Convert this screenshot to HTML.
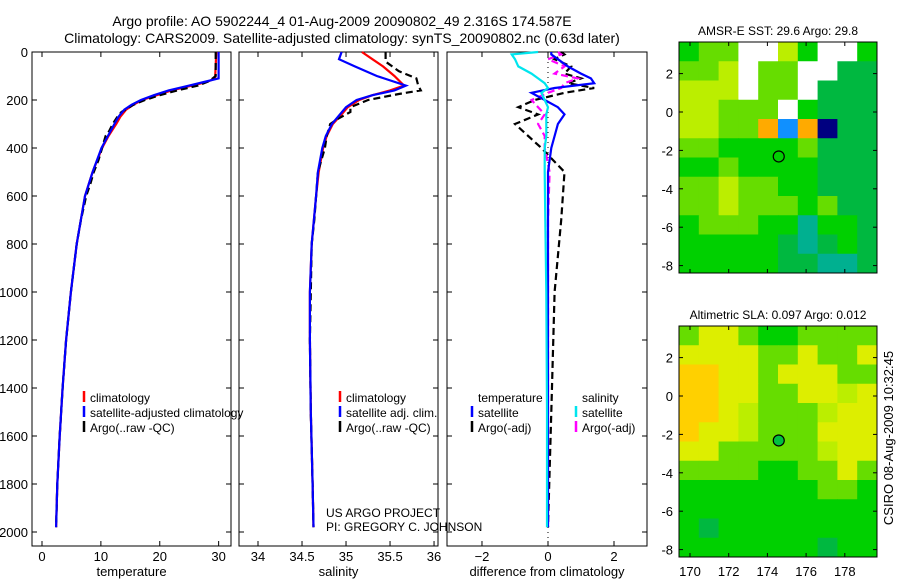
<!DOCTYPE html>
<html><head><meta charset="utf-8"><style>
body{margin:0;background:#fff;}
svg{display:block;font-family:"Liberation Sans",sans-serif;}
</style></head><body>
<svg id="fig" width="900" height="580" viewBox="0 0 900 580">
<text x="342" y="26" font-size="14" text-anchor="middle">Argo profile: AO 5902244_4 01-Aug-2009 20090802_49 2.316S 174.587E</text>
<text x="342" y="43" font-size="14" text-anchor="middle">Climatology: CARS2009. Satellite-adjusted climatology: synTS_20090802.nc (0.63d later)</text>
<g id="maps"></g>
<g id="panels"></g>
<text transform="translate(893,438) rotate(-90)" font-size="13" text-anchor="middle">CSIRO 08-Aug-2009 10:32:45</text>
</svg>
<script>
// ---------- data ----------
const tempDepth = [0,110,125,140,160,180,200,220,240,270,300,350,400,500,600,800,1000,1200,1400,1600,1800,1980];
const tempClim  = [29.6,29.4,28.0,25.5,22.0,19.5,17.0,15.5,14.3,13.3,12.6,11.3,10.2,8.6,7.3,5.9,4.9,4.1,3.5,3.0,2.6,2.4];
const tempSat   = [30.0,30.0,27.5,25.0,21.5,19.0,16.8,15.2,14.0,13.0,12.3,11.2,10.1,8.6,7.3,5.9,4.9,4.1,3.5,3.0,2.6,2.4];
const argoTDepth= [0,100,120,140,160,180,200,220,250,270,300,330,350,400,450,500,550,600,700,800,900,1000,1200,1400,1600,1800,1980];
const argoT     = [29.5,29.5,28.5,26.5,23.0,20.0,17.5,15.5,13.5,12.8,12.0,11.4,10.8,10.2,9.6,8.8,8.2,7.5,6.6,5.9,5.4,4.9,4.1,3.5,3.0,2.6,2.4];

const salDepth  = [0,30,60,100,140,160,180,200,230,260,300,350,400,500,600,800,1000,1200,1500,1800,1980];
const salClim   = [35.18,35.3,35.42,35.55,35.66,35.5,35.3,35.15,35.02,34.95,34.85,34.78,34.74,34.69,34.66,34.61,34.59,34.59,34.6,34.62,34.63];
const salSat    = [34.95,34.92,35.1,35.35,35.68,35.55,35.3,35.12,35.0,34.93,34.84,34.77,34.73,34.68,34.66,34.61,34.59,34.59,34.6,34.62,34.63];
const argoSDepth= [0,40,80,110,140,160,175,200,230,250,280,300,350,400,450,500,600,700,800,1000,1200,1500,1800,1980];
const argoS     = [35.45,35.45,35.6,35.8,35.82,35.85,35.6,35.25,35.05,35.05,34.9,34.82,34.78,34.76,34.72,34.68,34.66,34.64,34.61,34.6,34.59,34.6,34.62,34.63];

const diffDepth = [0,10,30,60,90,110,130,150,170,200,230,260,300,350,400,500,700,1000,1500,1980];
const diffSatT  = [0.1,0.1,0.3,0.6,1.0,1.3,1.4,0.2,-0.5,-0.1,0.3,0.5,0.3,0.2,0.1,0.0,0.0,0.0,0.0,0.0];
const diffSatS  = [-0.3,-1.1,-1.0,-0.9,-0.5,-0.3,-0.1,0.0,-0.2,-0.1,0.0,-0.05,-0.05,-0.05,-0.1,-0.1,-0.08,-0.05,-0.03,-0.03];
const diffArgoT = [0.4,0.5,0.2,0.7,0.5,1.0,0.6,1.4,0.5,-0.4,-0.9,-0.3,-1.0,-0.6,-0.2,0.5,0.4,0.2,0.1,0.0];
const diffArgoS = [0.3,0.4,0.0,0.5,0.2,0.9,0.5,0.4,0.0,-0.5,-0.3,-0.1,-0.3,-0.1,-0.1,0.05,0.0,0.0,0.0,0.0];

const depthTicks=[0,200,400,600,800,1000,1200,1400,1600,1800,2000];
const tempTicks=[0,10,20,30];
const salTicks=[34,34.5,35,35.5,36];
const diffTicks=[-2,0,2];

// ---------- helpers ----------
const NS="http://www.w3.org/2000/svg";
const panels=document.getElementById('panels');
function mk(tag,attrs,parent){const e=document.createElementNS(NS,tag);for(const k in attrs)e.setAttribute(k,attrs[k]);(parent||panels).appendChild(e);return e;}
const Y=d=>52+d*0.24;
function panel(x0,x1,xmin,xmax,ticks,label,name,showY){
  const X=v=>x0+(v-xmin)/(xmax-xmin)*(x1-x0);
  const r=mk('rect',{x:x0,y:52,width:x1-x0,height:494,fill:'none',stroke:'#000','stroke-width':1});
  
  
  ticks.forEach(t=>{
    const xx=X(t);
    mk('line',{x1:xx,x2:xx,y1:52,y2:57,stroke:'#000'});
    mk('line',{x1:xx,x2:xx,y1:541,y2:546,stroke:'#000'});
    const tx=mk('text',{x:xx,y:561,'font-size':13,'text-anchor':'middle'});
    tx.textContent=(t<0?'\u2212'+(-t):t);
    
    
  });
  depthTicks.forEach(d=>{
    mk('line',{x1:x0,x2:x0+5,y1:Y(d),y2:Y(d),stroke:'#000'});
    mk('line',{x1:x1-5,x2:x1,y1:Y(d),y2:Y(d),stroke:'#000'});
    if(showY){const t=mk('text',{x:x0-4,y:Y(d)+5,'font-size':13,'text-anchor':'end'});t.textContent=d;
      
      }
  });
  const xl=mk('text',{x:(x0+x1)/2,y:576,'font-size':13,'text-anchor':'middle'});xl.textContent=label;
  
  
  return X;
}
function series(X,depths,vals,color,dash,name){
  const pts=depths.map((d,i)=>X(vals[i]).toFixed(1)+','+Y(d).toFixed(1)).join(' ');
  const p=mk('polyline',{points:pts,fill:'none',stroke:color,'stroke-width':2.2,'stroke-dasharray':dash||'none'});
  
  
}
function legend(x,y,items,name){
  items.forEach((it,i)=>{
    const yy=y+i*15;
    if(it[1]){const l=mk('line',{x1:x,x2:x,y1:yy-11,y2:yy,stroke:it[1],'stroke-width':2.5});
      
      }
    const t=mk('text',{x:x+6,y:yy,'font-size':12});t.textContent=it[0];
    
    
  });
}
// Temperature panel
const XT=panel(32,231,-1.7,32.1,tempTicks,'temperature','temperature-panel',true);
series(XT,tempDepth,tempClim,'#ff0000','', 'temp-climatology-line');
series(XT,argoTDepth,argoT,'#000','7,4','temp-argo-line');
series(XT,tempDepth,tempSat,'#0000ff','', 'temp-satellite-line');
legend(84,402,[['climatology','#ff0000'],['satellite-adjusted climatology','#0000ff'],['Argo(..raw -QC)','#000']],'temp-legend');
// Salinity panel
const XS=panel(239,438,33.784,36.045,salTicks,'salinity','salinity-panel',false);
series(XS,salDepth,salClim,'#ff0000','','sal-climatology-line');
series(XS,argoSDepth,argoS,'#000','7,4','sal-argo-line');
series(XS,salDepth,salSat,'#0000ff','','sal-satellite-line');
legend(340,402,[['climatology','#ff0000'],['satellite adj. clim.','#0000ff'],['Argo(..raw -QC)','#000']],'sal-legend');
const pa=mk('text',{x:326,y:517,'font-size':12});pa.textContent='US ARGO PROJECT';


const pi=mk('text',{x:326,y:531,'font-size':12});pi.textContent='PI: GREGORY C. JOHNSON';


// Difference panel
const XD=panel(447,647,-3.06,3.0,diffTicks,'difference from climatology','difference-panel',false);
mk('line',{x1:XD(0),x2:XD(0),y1:52,y2:546,stroke:'#000','stroke-dasharray':'1,4'});
series(XD,diffDepth,diffArgoT,'#000','7,4','diff-argo-temp-line');
series(XD,diffDepth,diffArgoS,'#ff00ff','7,4','diff-argo-sal-line');
series(XD,diffDepth,diffSatT,'#0000ff','','diff-satellite-temp-line');
series(XD,diffDepth,diffSatS,'#00e5ee','','diff-satellite-sal-line');
legend(472,402,[['temperature',null],['satellite','#0000ff'],['Argo(-adj)','#000']],'diff-temp-legend');
legend(576,402,[['salinity',null],['satellite','#00e5ee'],['Argo(-adj)','#ff00ff']],'diff-sal-legend');

// ---------- maps ----------
const maps=document.getElementById('maps');
const C={G:'#00d000',L:'#66dd00',Y:'#bbee00',D:'#00b840',W:'#ffffff',O:'#ffaa00',T:'#00b090',B:'#1090ff',N:'#000080',A:'#ffd000',F:'#ddee00'};
const sstGrid=["GLLWWYGWWG","LLYWLLWWDD","YYYWLLWDDD","YYLLLWGDDD","YYLLOBONDD","LLGGGGLDDD","GGLGGGGDDD","LLYLLGGDDD","LLYLLLGLDD","GLLLGGTGGD","GGGGGDTDGD","GGGGGDDTTD"];
const slaGrid=["LFFLGGLLLL","FFFFLLFLLF","AAFFLFFFLL","AAFFLLFFYF","AAFYLLLYFF","AFFYLLLFFF","FFLLLLLYFF","LLLLGGLLFL","GGGGGGGLLG","GGGGGGGGGG","GDGGGGGGGG","GGGGGGGDGG"];
const lonTicks=[170,172,174,176,178];
function map(y0,y1,grid,title,latTicks,lat0y,name,marker){
  const x0=679,x1=877;
  const g=document.createElementNS(NS,'g');maps.appendChild(g);
  
  
  const cw=(x1-x0)/grid[0].length,ch=(y1-y0)/grid.length;
  grid.forEach((row,r)=>{[...row].forEach((c,k)=>{
    mk('rect',{x:x0+k*cw,y:y0+r*ch,width:cw+0.5,height:ch+0.5,fill:C[c]},g);
  });});
  mk('rect',{x:x0,y:y0,width:x1-x0,height:y1-y0,fill:'none',stroke:'#000'},g);
  const LX=v=>690+(v-170)*19.35, LY=v=>lat0y-v*19.2;
  lonTicks.forEach(v=>{mk('line',{x1:LX(v),x2:LX(v),y1:y0,y2:y0+4,stroke:'#000'},g);mk('line',{x1:LX(v),x2:LX(v),y1:y1-4,y2:y1,stroke:'#000'},g);});
  latTicks.forEach(v=>{mk('line',{x1:x0,x2:x0+4,y1:LY(v),y2:LY(v),stroke:'#000'},g);mk('line',{x1:x1-4,x2:x1,y1:LY(v),y2:LY(v),stroke:'#000'},g);
    const t=mk('text',{x:x0-6,y:LY(v)+5,'font-size':13,'text-anchor':'end'},g);t.textContent=(v<0?'-'+(-v):v);
    
    });
  const tt=mk('text',{x:(x0+x1)/2,y:y0-7,'font-size':12,'text-anchor':'middle'},g);tt.textContent=title;
  
  
  mk('circle',{cx:LX(174.587),cy:LY(-2.316),r:5.5,fill:marker,stroke:'#000','stroke-width':1.2},g);
  return {g,LX};
}
map(42,273,sstGrid,'AMSR-E SST: 29.6 Argo: 29.8',[2,0,-2,-4,-6,-8],112,'sst-map','none');
const m2=map(326,557,slaGrid,'Altimetric SLA: 0.097 Argo: 0.012',[2,0,-2,-4,-6,-8],396,'sla-map','#00c040');
lonTicks.forEach(v=>{const t=mk('text',{x:m2.LX(v),y:576,'font-size':13,'text-anchor':'middle'},m2.g);t.textContent=v;
  
  });
</script>
</body></html>
